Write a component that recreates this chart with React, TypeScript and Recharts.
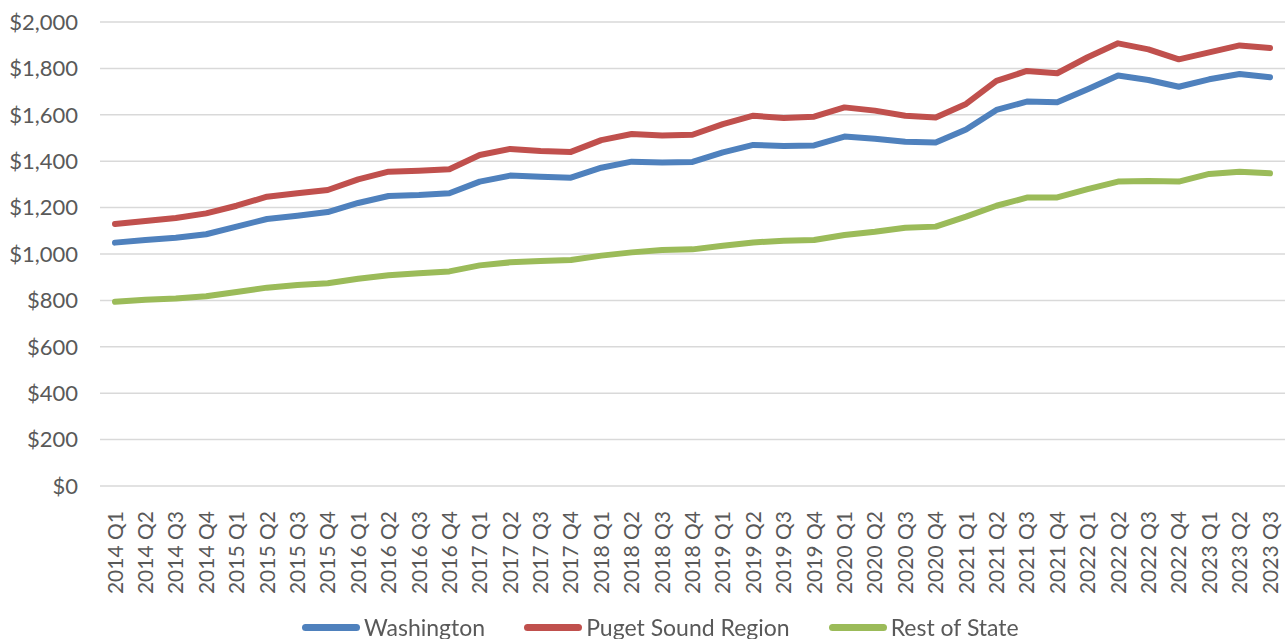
import React from "react";
import { LineChart, Line, XAxis, YAxis, CartesianGrid, Legend } from "recharts";

const quarters = [
  "2014 Q1", "2014 Q2", "2014 Q3", "2014 Q4",
  "2015 Q1", "2015 Q2", "2015 Q3", "2015 Q4",
  "2016 Q1", "2016 Q2", "2016 Q3", "2016 Q4",
  "2017 Q1", "2017 Q2", "2017 Q3", "2017 Q4",
  "2018 Q1", "2018 Q2", "2018 Q3", "2018 Q4",
  "2019 Q1", "2019 Q2", "2019 Q3", "2019 Q4",
  "2020 Q1", "2020 Q2", "2020 Q3", "2020 Q4",
  "2021 Q1", "2021 Q2", "2021 Q3", "2021 Q4",
  "2022 Q1", "2022 Q2", "2022 Q3", "2022 Q4",
  "2023 Q1", "2023 Q2", "2023 Q3",
];

const washington = [
  1049, 1060, 1070, 1085, 1118, 1151, 1165, 1181,
  1220, 1250, 1254, 1262, 1312, 1338, 1333, 1329,
  1372, 1398, 1394, 1397, 1438, 1470, 1466, 1468,
  1506, 1497, 1484, 1481, 1537, 1621, 1657, 1654,
  1710, 1769, 1750, 1721, 1753, 1776, 1762,
];

const pugetSound = [
  1129, 1142, 1155, 1175, 1208, 1247, 1262, 1276,
  1322, 1355, 1359, 1365, 1427, 1453, 1444, 1440,
  1491, 1517, 1511, 1514, 1560, 1596, 1586, 1592,
  1632, 1618, 1596, 1588, 1647, 1746, 1789, 1779,
  1848, 1908, 1882, 1839, 1869, 1899, 1888,
];

const restOfState = [
  794, 803, 808, 818, 836, 855, 866, 874,
  893, 908, 917, 925, 951, 964, 970, 974,
  993, 1007, 1017, 1020, 1036, 1050, 1057, 1060,
  1082, 1096, 1113, 1118, 1161, 1208, 1243, 1244,
  1280, 1312, 1315, 1312, 1345, 1355, 1348,
];

const yTicks = [0, 200, 400, 600, 800, 1000, 1200, 1400, 1600, 1800, 2000];

const series = [
  { key: "washington", name: "Washington", color: "#4F81BD" },
  { key: "puget", name: "Puget Sound Region", color: "#C0504D" },
  { key: "rest", name: "Rest of State", color: "#9BBB59" },
];

const data = quarters.map((q, i) => ({
  quarter: q,
  washington: washington[i],
  puget: pugetSound[i],
  rest: restOfState[i],
}));

const FONT = "Lato, 'Open Sans', sans-serif";
const TEXT = "#595959";

const QuarterTick = (props: any) => {
  const { x, y, payload } = props;
  return (
    <g transform={`translate(${x},${y + 17})`}>
      <text
        transform="rotate(-90)"
        textAnchor="end"
        dy="0.36em"
        fill={TEXT}
        fontSize={21}
        fontFamily={FONT}
      >
        {payload.value}
      </text>
    </g>
  );
};

const renderLegend = () => (
  <div
    style={{
      display: "flex",
      alignItems: "center",
      marginLeft: 302,
      marginTop: 14,
      fontFamily: FONT,
      fontSize: 23,
      color: TEXT,
    }}
  >
    {series.map((s) => (
      <div
        key={s.key}
        style={{ display: "flex", alignItems: "center", marginRight: 39 }}
      >
        <span
          style={{
            display: "inline-block",
            width: 58,
            height: 7,
            borderRadius: 3.5,
            background: s.color,
            marginRight: 4,
          }}
        />
        <span>{s.name}</span>
      </div>
    ))}
  </div>
);

export default function App() {
  return (
    <div style={{ position: "fixed", left: 0, top: 0, background: "#fff" }}>
      <LineChart
        width={1288}
        height={639}
        data={data}
        margin={{ top: 22, right: 3, bottom: 0, left: 0 }}
      >
        <CartesianGrid vertical={false} stroke="#d9d9d9" strokeWidth={1.5} />
        <XAxis
          dataKey="quarter"
          interval={0}
          height={113}
          padding={{ left: 15, right: 15 }}
          axisLine={false}
          tickLine={false}
          tick={<QuarterTick />}
        />
        <YAxis
          domain={[0, 2000]}
          ticks={yTicks}
          width={100}
          axisLine={false}
          tickLine={false}
          tickSize={0}
          tickMargin={22}
          tick={{ fill: TEXT, fontSize: 22, fontFamily: FONT }}
          tickFormatter={(v: number) => `$${v.toLocaleString("en-US")}`}
        />
        <Legend
          verticalAlign="bottom"
          height={40}
          wrapperStyle={{ left: 0, width: 1288 }}
          content={renderLegend}
        />
        {series.map((s) => (
          <Line
            key={s.key}
            type="linear"
            dataKey={s.key}
            name={s.name}
            stroke={s.color}
            strokeWidth={6}
            strokeLinecap="round"
            strokeLinejoin="round"
            dot={false}
            activeDot={false}
            isAnimationActive={false}
          />
        ))}
      </LineChart>
    </div>
  );
}
